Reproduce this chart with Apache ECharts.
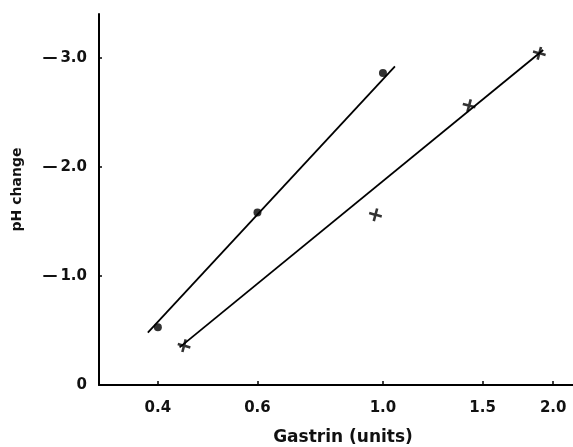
<!DOCTYPE html>
<html><head><meta charset="utf-8">
<script src="https://cdn.jsdelivr.net/npm/echarts@6/dist/echarts.min.js"></script>
<style>html,body{margin:0;padding:0;background:#fff}#c{width:573px;height:447px}</style>
</head><body><div id="c"></div>
<script>
// Gastrin dose (units, log scale) vs pH change
const xTickLabels = [0.4, 0.6, 1.0, 1.5, 2.0];
const yTickLabels = [0, 1, 2, 3];
const dotX = [0.4, 0.6, 1.0];
const dotY = [0.53, 1.58, 2.86];
const crossX = [0.445, 0.97, 1.42, 1.89];
const crossY = [0.36, 1.56, 2.56, 3.04];
const dotLineX = [0.384, 1.05];
const dotLineY = [0.48, 2.92];
const crossLineX = [0.437, 1.92];
const crossLineY = [0.345, 3.07];

const L = v => Math.log10(v);
const pts = (xs, ys) => xs.map((x, i) => [L(x), ys[i]]);
const font = '"DejaVu Sans", sans-serif';
const plus = 'path://M4,0h2v4h4v2h-4v4h-2v-4h-4v-2h4z';

const chart = echarts.init(document.getElementById('c'), null, {renderer: 'canvas'});
chart.setOption({
  animation: false,
  backgroundColor: '#fff',
  grid: {left: 99, right: 0, top: 14, bottom: 62, containLabel: false, outerBoundsMode: 'none'},
  xAxis: {
    type: 'value', min: -0.502, max: 0.336,
    name: 'Gastrin (units)', nameLocation: 'middle', nameGap: 44,
    nameTextStyle: {color: '#111', fontSize: 17, fontWeight: 'bold', fontFamily: font, padding: [0, 0, 0, 14]},
    axisLine: {onZero: false, lineStyle: {color: '#000', width: 2}},
    axisTick: {show: true, inside: true, length: 4, lineStyle: {color: '#000', width: 1.5}, customValues: xTickLabels.map(L)},
    axisLabel: {customValues: xTickLabels.map(L), margin: 16, color: '#111', fontSize: 15, fontWeight: 'bold', fontFamily: font,
      formatter: v => Math.pow(10, v).toFixed(1)},
    splitLine: {show: false}
  },
  yAxis: {
    type: 'value', min: 0, max: 3.4,
    name: 'pH change', nameLocation: 'middle', nameGap: 75, nameRotate: 90,
    nameTextStyle: {color: '#111', fontSize: 14, fontWeight: 'bold', fontFamily: font, padding: [0, 0, 0, 20]},
    axisLine: {show: true, onZero: false, lineStyle: {color: '#000', width: 2}},
    axisTick: {show: true, inside: true, length: 3, lineStyle: {color: '#000', width: 1.5}, customValues: yTickLabels},
    axisLabel: {customValues: yTickLabels, margin: 12, color: '#111', fontSize: 15, fontWeight: 'bold', fontFamily: font,
      formatter: v => v === 0 ? '0' : '\u2014\u2009' + v.toFixed(1)},
    splitLine: {show: false}
  },
  series: [
    {type: 'line', data: pts(dotLineX, dotLineY), symbol: 'none', lineStyle: {color: '#000', width: 1.8}, z: 2},
    {type: 'line', data: pts(crossLineX, crossLineY), symbol: 'none', lineStyle: {color: '#000', width: 1.8}, z: 2},
    {type: 'scatter', data: pts(dotX, dotY), symbol: 'circle', symbolSize: 8, itemStyle: {color: '#000'}, z: 3},
    {type: 'scatter', data: pts(crossX, crossY), symbol: plus, symbolSize: 13, symbolRotate: -15, itemStyle: {color: '#000'}, z: 3}
  ]
});
</script></body></html>
